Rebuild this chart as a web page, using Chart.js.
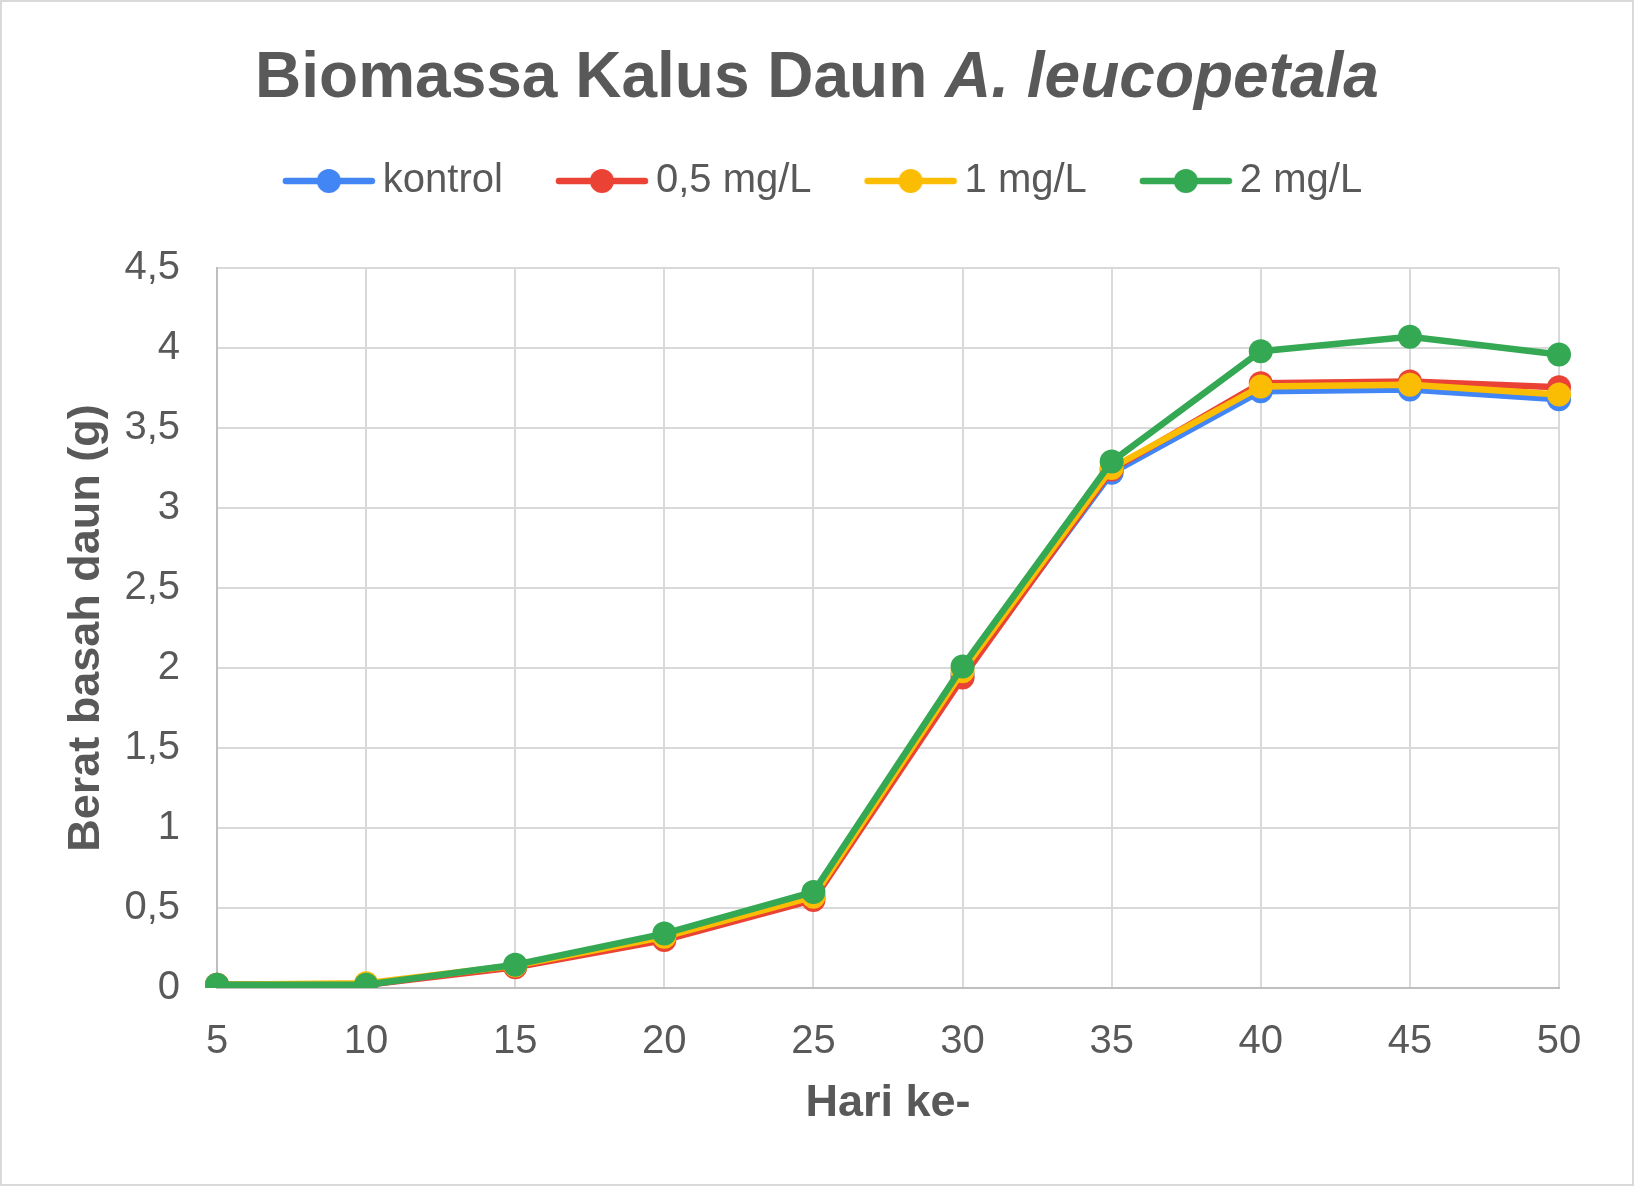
<!DOCTYPE html>
<html>
<head>
<meta charset="utf-8">
<script src="https://cdn.jsdelivr.net/npm/chart.js@4.4.1/dist/chart.umd.min.js"></script>
<style>
  html, body { margin: 0; padding: 0; background: #fff; }
  #wrap { position: relative; width: 1634px; height: 1186px; }
  #judul {
    position: absolute; left: 0; top: 43px; width: 1634px;
    text-align: center; font: bold 64px/64px "Liberation Sans", Arial, sans-serif;
    color: #595959; white-space: nowrap;
  }
  #bingkai {
    position: absolute; left: 0; top: 0; width: 1634px; height: 1186px;
    box-sizing: border-box; border: 2px solid #d9d9d9; pointer-events: none;
  }
  canvas { position: absolute; left: 0; top: 0; }
</style>
</head>
<body>
<div id="wrap">
  <canvas id="myChart" width="1634" height="1186"></canvas>
  <div id="judul">Biomassa Kalus Daun <i>A. leucopetala</i></div>
  <div id="bingkai"></div>
</div>
<script>
// hari pengamatan
const hari = ['5', '10', '15', '20', '25', '30', '35', '40', '45', '50']

// berat basah (g) tiap perlakuan
const kontrol = [0.02, 0.02, 0.14, 0.32, 0.57, 1.96, 3.22, 3.73, 3.74, 3.68]
const mg05    = [0.02, 0.02, 0.13, 0.30, 0.55, 1.94, 3.24, 3.78, 3.79, 3.755]
const mg1     = [0.02, 0.03, 0.14, 0.32, 0.57, 1.98, 3.25, 3.76, 3.77, 3.71]
const mg2     = [0.02, 0.02, 0.145, 0.34, 0.60, 2.01, 3.29, 3.98, 4.07, 3.96]

const namaSeri = ['kontrol', '0,5 mg/L', '1 mg/L', '2 mg/L']
const warna = ['#4285F4', '#EA4335', '#FBBC04', '#34A853']

const fontName = '"Liberation Sans", Arial, sans-serif'
const abu = '#595959'

// gambar kecil garis + titik untuk legenda
function legendIcon(color) {
  const c = document.createElement('canvas')
  c.width = 94
  c.height = 26
  const g = c.getContext('2d')
  g.strokeStyle = color
  g.lineWidth = 6.5
  g.lineCap = 'round'
  g.beginPath()
  g.moveTo(4, 13)
  g.lineTo(90, 13)
  g.stroke()
  g.fillStyle = color
  g.beginPath()
  g.arc(47, 13, 12, 0, Math.PI * 2)
  g.fill()
  return c
}

const semuaData = [kontrol, mg05, mg1, mg2]
const datasets = semuaData.map((d, i) => ({
  label: namaSeri[i],
  data: d,
  borderColor: warna[i],
  backgroundColor: warna[i],
  pointBackgroundColor: warna[i],
  pointBorderColor: warna[i],
  borderWidth: 6.5,
  pointRadius: 12,
  pointBorderWidth: 0,
  pointHoverRadius: 12,
  pointStyle: 'circle',
  icon: legendIcon(warna[i]),
  tension: 0,
  order: 3 - i
}))

// legenda: tambah jarak bawah dan geser ke tengah halaman
const aturLegenda = {
  id: 'aturLegenda',
  afterInit(chart) {
    const lg = chart.legend
    const fitAsli = lg.fit
    lg.fit = function () {
      fitAsli.call(this)
      this.height += 57
    }
  },
  afterLayout(chart) {
    chart.legend.left += 49
    chart.legend.right += 49
  }
}

const ctx = document.getElementById('myChart')
const myChart = new Chart(ctx, {
  type: 'line',
  data: { labels: hari, datasets: datasets },
  plugins: [aturLegenda],
  options: {
    responsive: false,
    animation: false,
    devicePixelRatio: 1,
    layout: { padding: { top: 96, right: 75, bottom: 0, left: 0 } },
    plugins: {
      title: { display: false },
      tooltip: { enabled: false },
      legend: {
        position: 'top',
        labels: {
          usePointStyle: true,
          pointStyleWidth: 68,
          padding: 65,
          color: abu,
          font: { family: fontName, size: 40 },
          generateLabels(chart) {
            return chart.data.datasets.map((ds, i) => ({
              text: ds.label,
              pointStyle: ds.icon,
              fillStyle: ds.borderColor,
              strokeStyle: ds.borderColor,
              lineWidth: 0,
              fontColor: abu,
              hidden: false,
              datasetIndex: i
            }))
          }
        }
      }
    },
    scales: {
      x: {
        type: 'category',
        offset: false,
        grid: { color: '#d9d9d9', lineWidth: 2, drawTicks: false },
        border: { color: '#bfbfbf', width: 2 },
        ticks: {
          color: abu, padding: 30,
          font: { family: fontName, size: 40 },
          maxRotation: 0, autoSkip: false
        },
        title: {
          display: true, text: 'Hari ke-', color: abu,
          font: { family: fontName, size: 45, weight: 'bold' },
          padding: { top: 0, bottom: 55 }
        },
        afterFit(scale) { scale.height = 198 }
      },
      y: {
        min: 0, max: 4.5,
        grid: { color: '#d9d9d9', lineWidth: 2, drawTicks: false },
        border: { color: '#bfbfbf', width: 2 },
        ticks: {
          stepSize: 0.5, color: abu, padding: 37,
          font: { family: fontName, size: 40 },
          callback: v => String(v).replace('.', ',')
        },
        title: {
          display: true, text: 'Berat basah daun (g)', color: abu,
          font: { family: fontName, size: 45, weight: 'bold' },
          padding: { top: 59.5, bottom: 0 }
        },
        afterFit(scale) { scale.width = 217 }
      }
    }
  }
})
</script>
</body>
</html>
